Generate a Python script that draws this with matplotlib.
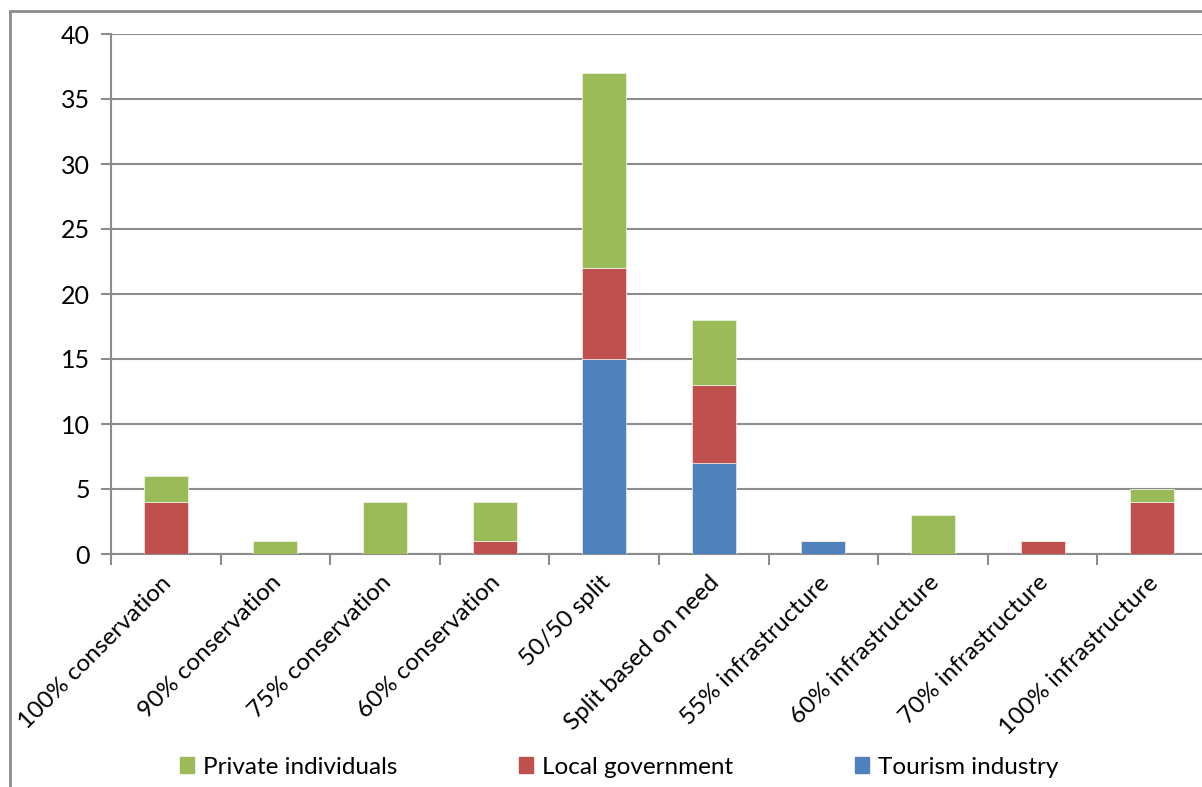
import matplotlib
matplotlib.use("Agg")
import matplotlib.pyplot as plt
import matplotlib.transforms as mtransforms
import numpy as np
from matplotlib.patches import Rectangle

plt.rcParams['font.family'] = ['Lato', 'DejaVu Sans']

categories = ["100% conservation", "90% conservation", "75% conservation",
              "60% conservation", "50/50 split", "Split based on need",
              "55% infrastructure", "60% infrastructure", "70% infrastructure",
              "100% infrastructure"]
tourism = [0, 0, 0, 0, 15, 7, 1, 0, 0, 0]
local_gov = [4, 0, 0, 1, 7, 6, 0, 0, 1, 4]
private = [2, 1, 4, 3, 15, 5, 0, 3, 0, 1]

c_blue = "#4F81BD"
c_red = "#C0504D"
c_green = "#9BBB59"
grid_c = "#8C8C8C"

W, H = 1202, 787
fig = plt.figure(figsize=(W / 100, H / 100), dpi=100)

# outer chart border, running off the right and bottom edges
fig.patches.append(Rectangle((10 / W, -0.1), 1.2, 1 - 11 / H + 0.1,
                             transform=fig.transFigure, fill=False,
                             edgecolor="#8C8C8C", linewidth=2))

ax = fig.add_axes([111 / W, (H - 554) / H, 1096 / W, 520 / H])

x = np.arange(len(categories)) + 0.5
bw = 0.4
t = np.array(tourism)
l = np.array(local_gov)
p = np.array(private)
ax.bar(x, t, bw, color=c_blue, edgecolor="#dbe5f1", linewidth=0.6, zorder=3)
ax.bar(x, l, bw, bottom=t, color=c_red, edgecolor="#f2dcdb", linewidth=0.6, zorder=3)
ax.bar(x, p, bw, bottom=t + l, color=c_green, edgecolor="#ebf1de", linewidth=0.6, zorder=3)

ax.set_xlim(0, 10)
ax.set_ylim(0, 40)
ax.set_yticks(range(0, 41, 5))
ax.yaxis.grid(True, color=grid_c, linewidth=1.5)
ax.set_axisbelow(True)

for s in ["top", "right"]:
    ax.spines[s].set_visible(False)
for s in ["left", "bottom"]:
    ax.spines[s].set_color(grid_c)
    ax.spines[s].set_linewidth(1.5)

ax.set_xticks(range(0, 11))
ax.set_xticklabels([])
ax.set_xticks(x, minor=True)
ax.set_xticklabels(categories, minor=True, rotation=45, ha="right",
                   rotation_mode="anchor", fontsize=17.5)
ax.tick_params(axis="x", which="major", length=8, width=1.5, color=grid_c)
ax.tick_params(axis="x", which="minor", length=0, pad=13)
ax.tick_params(axis="y", length=7, width=1.5, color=grid_c, labelsize=18, pad=8)

# nudge the slanted category labels a little to the left
shift = mtransforms.ScaledTranslation(-5 / 100, 0, fig.dpi_scale_trans)
for lab in ax.get_xticklabels(minor=True):
    lab.set_transform(lab.get_transform() + shift)

handles = [Rectangle((0, 0), 1, 1, color=c_green),
           Rectangle((0, 0), 1, 1, color=c_red),
           Rectangle((0, 0), 1, 1, color=c_blue)]
fig.legend(handles, ["Private individuals", "Local government", "Tourism industry"],
           loc="center", bbox_to_anchor=(619 / W, 1 - 767 / H), ncol=3,
           frameon=False, fontsize=17.5, handlelength=0.6, handleheight=0.6,
           handletextpad=0.35, columnspacing=5.0, borderpad=0)

fig.savefig("out.png", dpi=100)
